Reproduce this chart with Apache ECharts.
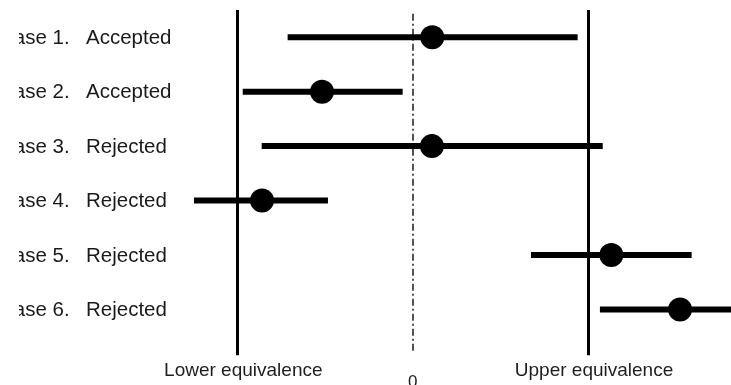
<!DOCTYPE html>
<html>
<head>
<meta charset="utf-8">
<script src="https://cdn.jsdelivr.net/npm/echarts@6/dist/echarts.min.js"></script>
<style>html,body{margin:0;padding:0;background:#fff}#c{width:731px;height:385px}</style>
</head>
<body>
<div id="c"></div>
<script>
// Data
var caseNames = ['Case 1.', 'Case 2.', 'Case 3.', 'Case 4.', 'Case 5.', 'Case 6.'];
var decisions = ['Accepted', 'Accepted', 'Rejected', 'Rejected', 'Rejected', 'Rejected'];
var estimates = [0.112, -0.517, 0.110, -0.859, 1.133, 1.525];
var lowerCI  = [-0.713, -0.969, -0.861, -1.247, 0.675, 1.068];
var upperCI  = [0.941, -0.057, 1.084, -0.483, 1.591, 2.000];
var rowPos = [1, 2, 3, 4, 5, 6];
var lowerEquivalence = -1;
var upperEquivalence = 1;
var zeroLine = 0;
var xTickValues = [-1, 0, 1];
var xTickLabels = ['Lower equivalence', '0', 'Upper equivalence'];

var chart = echarts.init(document.getElementById('c'), null, {renderer: 'canvas'});

var ciData = rowPos.map(function (r, i) { return [lowerCI[i], upperCI[i], r]; });
var ptData = rowPos.map(function (r, i) { return [estimates[i], r]; });

var font = '"Liberation Sans", Arial, Helvetica, sans-serif';

chart.setOption({
  animation: false,
  backgroundColor: '#ffffff',
  grid: {left: 0, right: 0, top: 10, bottom: 29.8, containLabel: false, outerBoundsMode: 'none'},
  xAxis: {
    type: 'value',
    min: -2.3533,
    max: 1.8155,
    axisLine: {show: false},
    axisTick: {show: false},
    splitLine: {show: false},
    axisLabel: {
      customValues: xTickValues,
      margin: 6,
      fontFamily: font,
      color: '#1e1e1e',
      formatter: function (v) {
        var i = xTickValues.indexOf(v);
        var t = xTickLabels[i];
        return v === zeroLine ? '{z|' + t + '}' : '{e|' + t + '}';
      },
      rich: {
        e: {fontSize: 19, fontFamily: font, color: '#1e1e1e', padding: [0, 0, 0, 12]},
        z: {fontSize: 17, fontFamily: font, color: '#1e1e1e', padding: [13, 0, 0, 0]}
      }
    }
  },
  yAxis: {
    type: 'value',
    inverse: true,
    min: 0.5,
    max: 6.84,
    axisLine: {show: false},
    axisTick: {show: false},
    splitLine: {show: false},
    axisLabel: {
      customValues: rowPos,
      align: 'left',
      margin: 1,
      fontFamily: font,
      formatter: function (v) {
        var i = Math.round(v) - 1;
        return '{a|' + caseNames[i] + '}{b|' + decisions[i] + '}';
      },
      rich: {
        a: {width: 87, fontSize: 20.5, fontFamily: font, color: '#1a1a1a', padding: [2, 0, 0, 0]},
        b: {fontSize: 20.5, fontFamily: font, color: '#1a1a1a', padding: [2, 0, 0, 0]}
      }
    }
  },
  graphic: {
    elements: [{
      type: 'rect', left: 0, top: 0, z: 100,
      shape: {width: 19, height: 385},
      style: {fill: '#ffffff'}
    }]
  },
  series: [
    {
      type: 'custom',
      data: ciData,
      encode: {x: [0, 1], y: 2},
      z: 3,
      renderItem: function (params, api) {
        var p1 = api.coord([api.value(0), api.value(2)]);
        var p2 = api.coord([api.value(1), api.value(2)]);
        return {
          type: 'line',
          shape: {x1: p1[0], y1: p1[1], x2: p2[0], y2: p2[1]},
          style: {stroke: '#000', lineWidth: 6, lineCap: 'butt'}
        };
      },
      markLine: {
        silent: true,
        symbol: 'none',
        label: {show: false},
        z: 1,
        data: [
          {xAxis: lowerEquivalence, lineStyle: {color: '#000', width: 3, type: 'solid'}},
          {xAxis: upperEquivalence, lineStyle: {color: '#000', width: 3, type: 'solid'}},
          [
            {coord: [zeroLine, 0.57], lineStyle: {color: '#2a2a2a', width: 1.6, type: [7, 3, 2, 3]}},
            {coord: [zeroLine, 6.80]}
          ]
        ]
      }
    },
    {
      type: 'scatter',
      data: ptData,
      symbol: 'circle',
      symbolSize: 24,
      z: 5,
      itemStyle: {color: '#000', opacity: 1}
    }
  ]
});
</script>
</body>
</html>
